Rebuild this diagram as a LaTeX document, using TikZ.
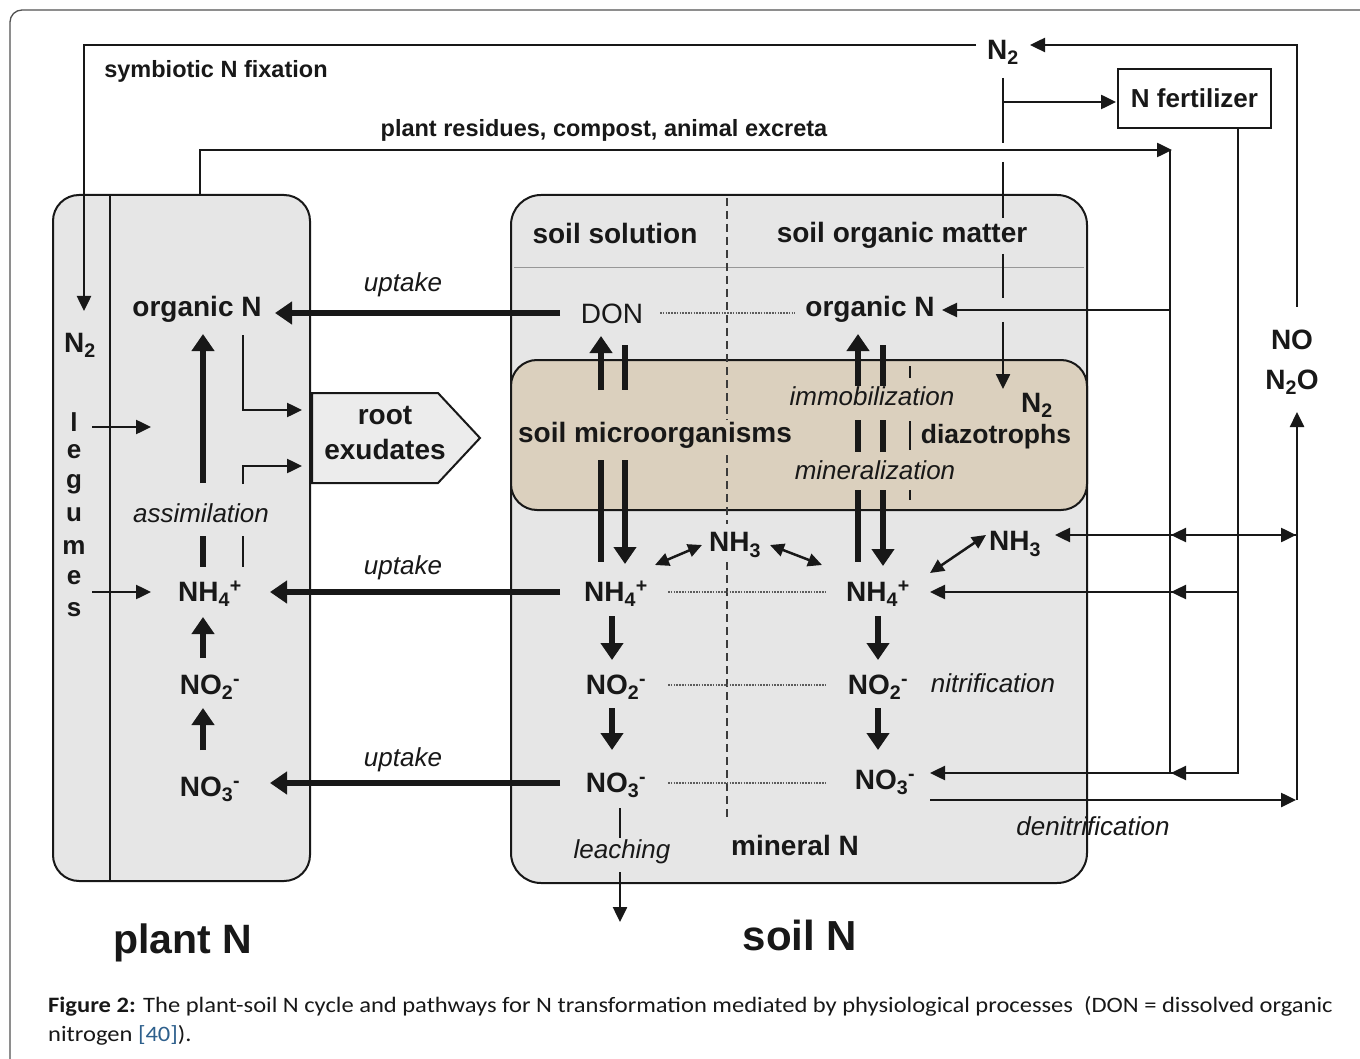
\documentclass[tikz,border=0pt]{standalone}
\usepackage{fontspec}
\setmainfont{Liberation Sans}
\newfontfamily\capfont{Carlito}
\usetikzlibrary{arrows.meta}
\definecolor{boxgray}{RGB}{230,230,230}
\definecolor{soiltan}{RGB}{219,208,190}
\definecolor{ink}{RGB}{24,24,24}
\definecolor{linkblue}{RGB}{45,95,140}
\definecolor{exudgray}{RGB}{236,236,236}
\newcommand{\Ntwo}{N\textsubscript{2}}
\newcommand{\NHfour}{NH\textsubscript{4}\textsuperscript{+}}
\newcommand{\NHthree}{NH\textsubscript{3}}
\newcommand{\NOtwo}{NO\textsubscript{2}\textsuperscript{-}}
\newcommand{\NOthree}{NO\textsubscript{3}\textsuperscript{-}}
\newcommand{\NtwoO}{N\textsubscript{2}O}
\newcommand{\capwide}[1]{\scalebox{1.115}[1]{#1}}
\tikzset{
  tlab/.style={font=\bfseries\fontsize{28}{32}\selectfont, text=ink, inner sep=0pt},
  treg/.style={font=\fontsize{28}{32}\selectfont, text=ink, inner sep=0pt},
  tital/.style={font=\itshape\fontsize{26}{30}\selectfont, text=ink, inner sep=0pt},
  tsmall/.style={font=\bfseries\fontsize{23.5}{27}\selectfont, text=ink, inner sep=0pt},
  tbig/.style={font=\bfseries\fontsize{41}{46}\selectfont, text=ink, inner sep=0pt},
  tcap/.style={font=\capfont\fontsize{22}{26}\selectfont, text=ink, inner sep=0pt, anchor=west},
  thk/.style={line width=5.5pt, draw=ink},
  thkarr/.style={thk, -{Triangle[length=17pt,width=22pt]}},
  thn/.style={line width=2.5pt, draw=ink},
  thnarr/.style={thn, -{Triangle[length=15pt,width=14pt]}},
  dblarr/.style={thn, {Triangle[length=14pt,width=13pt]}-{Triangle[length=14pt,width=13pt]}},
  dotln/.style={line width=1.6pt, draw=ink!70, dash pattern=on 1.6pt off 1.2pt},
  dashln/.style={line width=2.2pt, draw=ink!85, dash pattern=on 8pt off 5pt},
}
\begin{document}
\begin{tikzpicture}[x=1pt,y=-1pt]
\useasboundingbox (0,0) rectangle (1360,1059);
\clip (0,0) rectangle (1360,1059);
\fill[white] (0,0) rectangle (1360,1059);
\draw[line width=1.3pt, draw=ink!75, rounded corners=12pt] (10,10) rectangle (1420,1120);

% ---------- boxes
\node[draw=ink, line width=2pt, fill=boxgray, rounded corners=26pt, minimum width=257pt, minimum height=686pt, inner sep=0pt] (plantbox) at (181.5,538) {};
\draw[line width=2pt, draw=ink] (110,195) -- (110,881);
\node[draw=ink, line width=2pt, fill=boxgray, rounded corners=30pt, minimum width=576pt, minimum height=688pt, inner sep=0pt] (soilbox) at (799,539) {};
\draw[line width=1pt, draw=ink!45] (514,268) -- (1084,268);
\node[draw=ink, line width=2pt, fill=soiltan, rounded corners=26pt, minimum width=576pt, minimum height=150pt, inner sep=0pt] (microbox) at (799,435) {};
\draw[dashln] (727,198) -- (727,420);
\draw[dashln] (727,455) -- (727,524);
\draw[dashln] (727,562) -- (727,820);

% root exudates
\draw[line width=2pt, draw=ink, fill=exudgray] (312,393) -- (438,393) -- (480,438) -- (438,483) -- (312,483) -- cycle;
\node[tlab, align=center, font=\bfseries\fontsize{28}{35}\selectfont] (exud) at (385,433) {root\\exudates};

% ---------- top region
\node[tsmall] (symb) at (216,71) {symbiotic N fixation};
\node[tsmall] (resid) at (604,130) {plant residues, compost, animal excreta};
\node[tlab] (n2top) at (1003,52) {\Ntwo};
\node[draw=ink, line width=2pt, minimum width=153pt, minimum height=59pt, inner sep=0pt, text=ink, font=\bfseries\fontsize{26}{30}\selectfont] (fert) at (1194.5,98.5) {N fertilizer};
\node[tlab] (no) at (1292,340) {NO};
\node[tlab] (n2o) at (1292,382) {\NtwoO};

\draw[thnarr] (976,45) -- (84,45) -- (84,311);
\draw[thnarr] (1297,307) -- (1297,45) -- (1030,45);
\draw[thn] (1003,78) -- (1003,143);
\draw[thnarr] (1003,102) -- (1116,102);
\draw[thn] (1003,162) -- (1003,218);
\draw[thn] (1003,254) -- (1003,298);
\draw[thnarr] (1003,322) -- (1003,389);
\draw[thnarr] (200,195) -- (200,150) -- (1172,150);
\draw[thn] (1170,150) -- (1170,774);

% right network
\draw[thnarr] (1170,310) -- (942,310);
\draw[thnarr] (1297,535) -- (1055,535);
\draw[thnarr] (1205,535) -- (1171,535);
\draw[thnarr] (1250,535) -- (1296,535);
\draw[thnarr] (1238,592) -- (930,592);
\draw[thnarr] (1205,592) -- (1171,592);
\draw[thnarr] (1238,128) -- (1238,773) -- (930,773);
\draw[thnarr] (1205,773) -- (1171,773);
\draw[thnarr] (930,800) -- (1296,800);
\draw[thnarr] (1297,800) -- (1297,412);

% ---------- plant box content
\node[tlab] (orgP) at (197,309) {organic N};
\node[tlab] (n2P) at (80,345) {\Ntwo};
\foreach \ch/\yy [count=\i] in {l/422,e/452,g/484,u/515,m/547,e/578,s/610}
  \node[tlab, font=\bfseries\fontsize{26}{30}\selectfont] (leg\i) at (74,\yy) {\ch};
\node[tital] (assim) at (201,513) {assimilation};
\node[tlab] (nh4P) at (210,594) {\NHfour};
\node[tlab] (no2P) at (210,687) {\NOtwo};
\node[tlab] (no3P) at (210,789) {\NOthree};

\draw[thnarr] (92,427) -- (151,427);
\draw[thnarr] (92,592) -- (151,592);
\draw[thkarr] (203,483) -- (203,334);
\draw[thk] (203,536) -- (203,567);
\draw[thkarr] (203,658) -- (203,617);
\draw[thkarr] (203,750) -- (203,708);
\draw[thnarr] (243,335) -- (243,410) -- (302,410);
\draw[thnarr] (243,484) -- (243,466) -- (302,466);
\draw[thn] (243,536) -- (243,567);

% uptake
\node[tital] (upt1) at (403,285) {uptake};
\node[tital] (upt2) at (403,568) {uptake};
\node[tital] (upt3) at (403,760) {uptake};
\draw[thkarr] (560,313) -- (275,313);
\draw[thkarr] (560,592) -- (270,592);
\draw[thkarr] (560,783) -- (270,783);

% ---------- soil box content
\node[tlab] (soilsol) at (615,233) {soil solution};
\node[tlab] (som) at (902,235) {soil organic matter};
\node[treg] (don) at (612,314) {DON};
\node[tlab] (orgS) at (870,309) {organic N};
\draw[dotln] (660,313) -- (795,313);
\node[tlab] (micro) at (655,435) {soil microorganisms};
\node[tital] (immob) at (872,396) {immobilization};
\node[tital] (miner) at (875,470) {mineralization};
\node[tlab] (n2S) at (1037,405) {\Ntwo};
\node[tlab, font=\bfseries\fontsize{26.5}{30}\selectfont] (diaz) at (996,437) {diazotrophs};

\draw[thkarr] (601,390) -- (601,336);
\draw[thk] (625,345) -- (625,390);
\draw[thk] (601,460) -- (601,562);
\draw[thkarr] (625,460) -- (625,564);
\draw[thkarr] (858,386) -- (858,334);
\draw[thk] (883,345) -- (883,386);
\draw[thk] (858,420) -- (858,452);
\draw[thk] (883,420) -- (883,452);
\draw[thk] (858,490) -- (858,562);
\draw[thkarr] (883,490) -- (883,566);
\draw[thn] (910,366) -- (910,378);
\draw[thn] (910,421) -- (910,450);
\draw[thn] (910,490) -- (910,500);

\node[tlab] (nh3C) at (735,545) {\NHthree};
\node[tlab] (nh3R) at (1015,544) {\NHthree};
\draw[dblarr] (655,565) -- (702,545);
\draw[dblarr] (770,545) -- (822,565);
\draw[dblarr] (930,573) -- (986,535);

\node[tlab] (nh4L) at (616,594) {\NHfour};
\node[tlab] (nh4R) at (878,594) {\NHfour};
\node[tlab] (no2L) at (616,687) {\NOtwo};
\node[tlab] (no2R) at (878,687) {\NOtwo};
\node[tital] (nitrif) at (993,683) {nitrification};
\node[tlab] (no3L) at (616,785) {\NOthree};
\node[tlab] (no3R) at (885,782) {\NOthree};
\draw[dotln] (668,592) -- (825,592);
\draw[dotln] (668,685) -- (825,685);
\draw[dotln] (668,783) -- (825,783);
\draw[thkarr] (612,616) -- (612,660);
\draw[thkarr] (612,708) -- (612,750);
\draw[thkarr] (878,616) -- (878,660);
\draw[thkarr] (878,708) -- (878,750);

\node[tital] (leach) at (622,852) {leaching};
\node[tlab] (mineral) at (795,845) {mineral N};
\node[tital] (denit) at (1093,826) {denitrification};
\draw[thn] (620,808) -- (620,838);
\draw[thnarr] (620,872) -- (620,922);

% ---------- big labels
\node[tbig] (plantN) at (183,943) {plant N};
\node[tbig, font=\bfseries\fontsize{42}{46}\selectfont] (soilN) at (800,935) {soil N};

% ---------- caption
\node[tcap] (cap1) at (48,1006) {\capwide{\textbf{Figure 2:} The plant-soil N cycle and pathways for N transformation mediated by physiological processes\ \ (DON = dissolved organic}};
\node[tcap] (cap2) at (48,1035) {\capwide{nitrogen \textcolor{linkblue}{[40]}).}};
\end{tikzpicture}
\end{document}
